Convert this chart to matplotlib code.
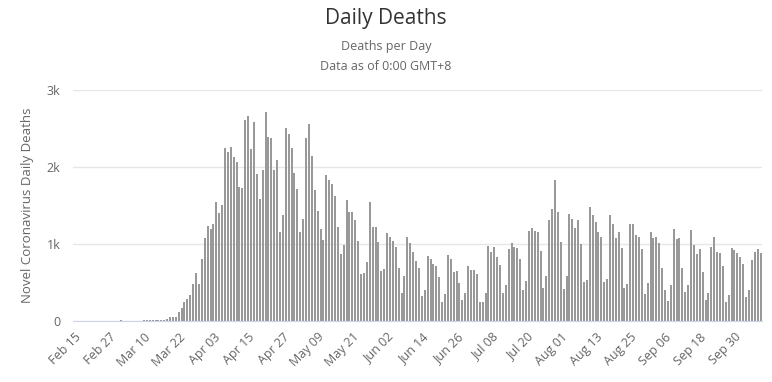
import pandas as pd
import matplotlib
matplotlib.use("Agg")
import matplotlib.pyplot as plt

plt.rcParams["font.family"] = ["Open Sans", "DejaVu Sans"]

# daily deaths, Feb 15 2020 .. Oct 9 2020
start_date = "2020-02-15"
feb = [0, 0, 0, 0, 0, 0, 0, 0, 0, 0, 0, 0, 0, 0, 1]
mar = [1, 5, 1, 4, 1, 3, 4, 3, 4, 6, 8, 7, 10, 9, 12, 13, 15, 20, 50, 50,
       55, 117, 165, 247, 281, 333, 480, 619, 480, 805, 1082]
apr = [1234, 1190, 1260, 1550, 1398, 1502, 2242, 2199, 2264, 2125, 2060,
       1736, 1723, 2610, 2662, 2234, 2580, 1909, 1584, 1961, 2719, 2385,
       2372, 1961, 2091, 1156, 1377, 2502, 2424, 2242]
may = [1918, 1710, 1151, 1325, 2372, 2558, 2147, 1697, 1433, 1195, 1052,
       1892, 1831, 1775, 1623, 1221, 866, 991, 1571, 1416, 1420, 1312, 1039,
       610, 619, 762, 1550, 1221, 1221, 1022, 645]
jun = [680, 1139, 1095, 1039, 965, 693, 368, 584, 1095, 1017, 900, 779,
       693, 329, 407, 848, 805, 736, 714, 576, 251, 351, 853, 810, 641, 649,
       498, 273, 359, 714]
jul = [667, 662, 610, 251, 251, 368, 978, 900, 965, 835, 732, 359, 468,
       935, 1009, 965, 952, 805, 403, 520, 1169, 1212, 1173, 1152, 909, 433,
       584, 1312, 1450, 1831, 1420]
aug = [1022, 411, 584, 1390, 1325, 1208, 1312, 996, 511, 532, 1476, 1377,
       1281, 1152, 1095, 506, 545, 1372, 1260, 1078, 1152, 948, 424, 480,
       1260, 1260, 1121, 1091, 931, 346, 489]
sep = [1152, 1074, 1091, 1009, 688, 403, 260, 468, 1190, 1065, 1078, 688,
       372, 468, 1177, 991, 866, 931, 636, 273, 359, 961, 1091, 900, 879,
       719, 251, 333, 944, 926]
oct_ = [887, 827, 736, 307, 403, 792, 900, 931, 887]

tick_labels = ["Feb 15", "Feb 27", "Mar 10", "Mar 22", "Apr 03", "Apr 15",
               "Apr 27", "May 09", "May 21", "Jun 02", "Jun 14", "Jun 26",
               "Jul 08", "Jul 20", "Aug 01", "Aug 13", "Aug 25", "Sep 06",
               "Sep 18", "Sep 30"]
y_ticks = [0, 1000, 2000, 3000]
y_tick_labels = ["0", "1k", "2k", "3k"]

deaths = feb + mar + apr + may + jun + jul + aug + sep + oct_
dates = pd.date_range(start_date, periods=len(deaths), freq="D")
labels = dates.strftime("%b %d")
df = pd.DataFrame({"date": labels, "deaths": deaths})

fig = plt.figure(figsize=(7.72, 3.82), dpi=100)
ax = fig.add_axes([0.0946, 0.160, 0.8924, 0.604])

ax.bar(range(len(df)), df["deaths"], width=0.68, color="#999999",
       edgecolor="none", zorder=3)

ax.set_xlim(-0.5, len(df) - 0.5)
ax.set_ylim(0, 3000)
ax.set_yticks(y_ticks)
ax.set_yticklabels(y_tick_labels)
tick_pos = [list(df["date"]).index(t) for t in tick_labels]
ax.set_xticks(tick_pos)
ax.set_xticklabels(tick_labels, rotation=45, ha="right", rotation_mode="anchor")

ax.grid(axis="y", color="#e6e6e6", linewidth=1, zorder=0)
for s in ["top", "right", "left"]:
    ax.spines[s].set_visible(False)
ax.spines["bottom"].set_color("#ccd6eb")
ax.spines["bottom"].set_zorder(4)
ax.tick_params(axis="x", length=0, labelsize=9, labelcolor="#666666", pad=7)
ax.tick_params(axis="y", length=0, labelsize=9, labelcolor="#666666", pad=9)

ax.set_ylabel("Novel Coronavirus Daily Deaths", fontsize=9.5, color="#666666",
              labelpad=9)

fig.text(0.5, 0.952, "Daily Deaths", ha="center", va="center",
         fontsize=15, color="#333333")
fig.text(0.5, 0.877, "Deaths per Day", ha="center", va="center",
         fontsize=9, color="#666666")
fig.text(0.5, 0.826, "Data as of 0:00 GMT+8", ha="center", va="center",
         fontsize=9, color="#666666")

fig.savefig("out.png", dpi=100)
